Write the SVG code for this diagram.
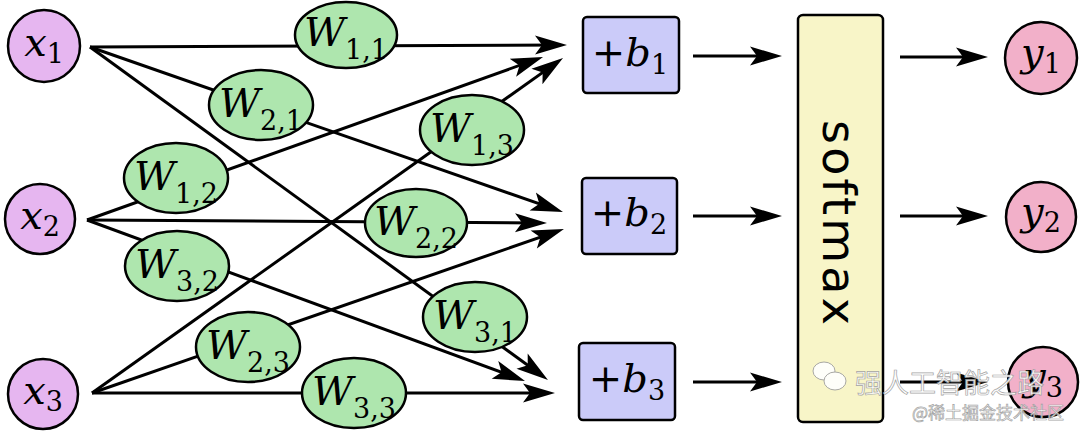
<svg xmlns="http://www.w3.org/2000/svg" width="1080" height="431" viewBox="0 0 1080 431">
  <defs>
    <marker id="ah" markerUnits="userSpaceOnUse" markerWidth="40" markerHeight="24" viewBox="-26 -12 36 24" refX="0" refY="0" orient="auto">
      <path d="M8,0 L-24,-9.5 L-17,0 L-24,9.5 Z" fill="#000"/>
    </marker>
  </defs>
  <style>
    .ln { stroke:#000; stroke-width:3; fill:none; marker-end:url(#ah); }
    .xn { fill:#e6b6f0; stroke:#000; stroke-width:2.5; }
    .wn { fill:#aee6ae; stroke:#000; stroke-width:2.5; }
    .bn { fill:#cbcbf9; stroke:#000; stroke-width:2.5; }
    .sn { fill:#f8f5c8; stroke:#000; stroke-width:2.5; }
    .yn { fill:#f2b0c9; stroke:#000; stroke-width:2.5; }
    text.m { font-family:'DejaVu Serif', serif; font-size:40px; fill:#000; text-anchor:middle; }
    tspan.i { font-style:italic; }
    tspan.s { font-size:27px; font-style:normal; }
    text.sm { font-family:'DejaVu Sans', sans-serif; font-size:46px; fill:#000; }
    text.wm { font-family:'Noto Sans CJK SC', 'Noto Sans', sans-serif; fill:#fff; stroke:#9a9a9a; stroke-width:0.7; }
  </style>

  <g id="connectors">
    <line class="ln" x1="90" y1="47" x2="559" y2="45"/>
    <line class="ln" x1="90" y1="47" x2="555.4" y2="209.4"/>
    <line class="ln" x1="90" y1="47" x2="541.5" y2="375.3"/>
    <line class="ln" x1="87" y1="220" x2="535.5" y2="59.7"/>
    <line class="ln" x1="87" y1="220" x2="539" y2="222.9"/>
    <line class="ln" x1="87" y1="220" x2="517.5" y2="378.2"/>
    <line class="ln" x1="92" y1="393" x2="556.5" y2="62.6"/>
    <line class="ln" x1="92" y1="393" x2="556.4" y2="231.6"/>
    <line class="ln" x1="92" y1="393" x2="547" y2="393"/>
    <line class="ln" x1="693" y1="56" x2="774" y2="56"/>
    <line class="ln" x1="693" y1="216" x2="774" y2="216"/>
    <line class="ln" x1="693" y1="382" x2="774" y2="382"/>
    <line class="ln" x1="900" y1="57" x2="980" y2="57"/>
    <line class="ln" x1="900" y1="216" x2="980" y2="216"/>
    <line class="ln" x1="900" y1="382" x2="980" y2="382"/>
  </g>

  <g id="x1"><circle class="xn" cx="44" cy="46" r="36"/><text class="m" x="44" y="56"><tspan class="i">x</tspan><tspan class="s" dy="7">1</tspan></text></g>
  <g id="x2"><circle class="xn" cx="40" cy="219" r="35"/><text class="m" x="40" y="229"><tspan class="i">x</tspan><tspan class="s" dy="7">2</tspan></text></g>
  <g id="x3"><circle class="xn" cx="43" cy="394" r="35"/><text class="m" x="43" y="404"><tspan class="i">x</tspan><tspan class="s" dy="7">3</tspan></text></g>

  <g id="W11"><ellipse class="wn" cx="346" cy="35" rx="51" ry="33"/><text class="m" x="346" y="46"><tspan class="i">W</tspan><tspan class="s" dy="13">1,1</tspan></text></g>
  <g id="W21"><ellipse class="wn" cx="261" cy="105" rx="52" ry="35"/><text class="m" x="261" y="117"><tspan class="i">W</tspan><tspan class="s" dy="13">2,1</tspan></text></g>
  <g id="W12"><ellipse class="wn" cx="176" cy="178" rx="52" ry="35"/><text class="m" x="176" y="190"><tspan class="i">W</tspan><tspan class="s" dy="13">1,2</tspan></text></g>
  <g id="W13"><ellipse class="wn" cx="472" cy="130" rx="52" ry="35"/><text class="m" x="472" y="142"><tspan class="i">W</tspan><tspan class="s" dy="13">1,3</tspan></text></g>
  <g id="W22"><ellipse class="wn" cx="416" cy="223" rx="51" ry="34"/><text class="m" x="416" y="235"><tspan class="i">W</tspan><tspan class="s" dy="13">2,2</tspan></text></g>
  <g id="W32"><ellipse class="wn" cx="177" cy="266" rx="52" ry="35"/><text class="m" x="177" y="278"><tspan class="i">W</tspan><tspan class="s" dy="13">3,2</tspan></text></g>
  <g id="W23"><ellipse class="wn" cx="248" cy="347" rx="52" ry="35"/><text class="m" x="248" y="359"><tspan class="i">W</tspan><tspan class="s" dy="13">2,3</tspan></text></g>
  <g id="W31"><ellipse class="wn" cx="475" cy="317" rx="52" ry="35"/><text class="m" x="475" y="329"><tspan class="i">W</tspan><tspan class="s" dy="13">3,1</tspan></text></g>
  <g id="W33"><ellipse class="wn" cx="354" cy="393" rx="52" ry="35"/><text class="m" x="354" y="405"><tspan class="i">W</tspan><tspan class="s" dy="13">3,3</tspan></text></g>

  <g id="b1"><rect class="bn" x="583" y="17" width="96" height="76" rx="4"/><text class="m" x="630" y="66">+<tspan class="i">b</tspan><tspan class="s" dy="8">1</tspan></text></g>
  <g id="b2"><rect class="bn" x="582" y="178" width="95" height="76" rx="4"/><text class="m" x="629" y="226">+<tspan class="i">b</tspan><tspan class="s" dy="8">2</tspan></text></g>
  <g id="b3"><rect class="bn" x="579" y="343" width="96" height="77" rx="4"/><text class="m" x="627" y="392">+<tspan class="i">b</tspan><tspan class="s" dy="8">3</tspan></text></g>

  <g id="softmax"><rect class="sn" x="798" y="15" width="85" height="407" rx="5"/><text class="sm" transform="translate(823,120) rotate(90)" textLength="205" lengthAdjust="spacing">softmax</text></g>

  <g id="y1"><circle class="yn" cx="1041" cy="58" r="36"/><text class="m" x="1041" y="66"><tspan class="i">y</tspan><tspan class="s" dy="7">1</tspan></text></g>
  <g id="y2"><circle class="yn" cx="1041" cy="217" r="35"/><text class="m" x="1041" y="225"><tspan class="i">y</tspan><tspan class="s" dy="7">2</tspan></text></g>
  <g id="y3"><circle class="yn" cx="1043" cy="382" r="35"/><text class="m" x="1043" y="390"><tspan class="i">y</tspan><tspan class="s" dy="7">3</tspan></text></g>

  <g id="watermark" opacity="0.9">
    <ellipse cx="824" cy="371" rx="11" ry="9" fill="#fff" stroke="#a0a0a0" stroke-width="1"/>
    <ellipse cx="835" cy="381" rx="11" ry="9" fill="#fff" stroke="#a0a0a0" stroke-width="1"/>
    <text class="wm" x="855" y="393" font-size="27">强人工智能之路</text>
    <text class="wm" x="912" y="419" font-size="17" stroke-width="0.4" fill="#f4f4f4">@稀土掘金技术社区</text>
  </g>
</svg>
